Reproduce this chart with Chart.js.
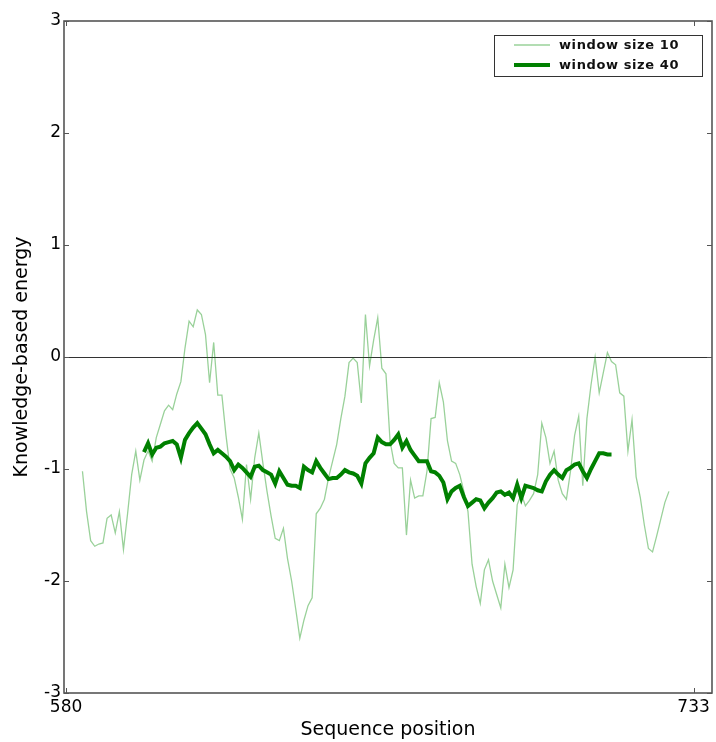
<!DOCTYPE html>
<html>
<head>
<meta charset="utf-8">
<script src="https://cdn.jsdelivr.net/npm/chart.js@4/dist/chart.umd.min.js"></script>
<style>
  html, body { margin: 0; padding: 0; background: #fff; }
  #wrap { width: 716px; height: 742px; }
</style>
</head>
<body>
<div id="wrap"><canvas id="myChart" width="716" height="742"></canvas></div>
<script>
// sequence positions where each smoothed series begins (one value per residue after that)
const start10 = 584;
const start40 = 599;

const label10 = 'window size 10';
const label40 = 'window size 40';

const xTicks = [580, 733];
const yTicks = [-3, -2, -1, 0, 1, 2, 3];

// window size 10 : positions 584..727
const energy10 = [
  -1.02, -1.38, -1.64, -1.69, -1.67, -1.66, -1.44, -1.41, -1.57, -1.38,
  -1.72, -1.40, -1.05, -0.84, -1.10, -0.92, -0.84, -0.93, -0.72, -0.60,
  -0.48, -0.43, -0.47, -0.33, -0.22, 0.08, 0.32, 0.27, 0.42, 0.38,
  0.20, -0.23, 0.13, -0.34, -0.34, -0.70, -1.00, -1.08, -1.25, -1.45,
  -0.96, -1.27, -0.90, -0.68, -0.95, -1.20, -1.42, -1.62, -1.64, -1.53,
  -1.80, -2.00, -2.25, -2.51, -2.35, -2.22, -2.15, -1.40, -1.35, -1.27,
  -1.08, -0.93, -0.78, -0.55, -0.35, -0.05, -0.01, -0.05, -0.41, 0.38,
  -0.08, 0.15, 0.35, -0.10, -0.15, -0.75, -0.95, -0.99, -0.99, -1.59,
  -1.10, -1.26, -1.24, -1.24, -1.02, -0.55, -0.54, -0.23, -0.40, -0.75,
  -0.93, -0.95, -1.05, -1.20, -1.38, -1.85, -2.05, -2.20, -1.90, -1.81,
  -2.00, -2.12, -2.24, -1.85, -2.06, -1.90, -1.32, -1.22, -1.33, -1.28,
  -1.22, -1.05, -0.59, -0.72, -0.95, -0.84, -1.10, -1.22, -1.27, -1.02,
  -0.70, -0.53, -1.15, -0.55, -0.25, 0.00, -0.32, -0.14, 0.04, -0.04,
  -0.07, -0.32, -0.35, -0.84, -0.56, -1.07, -1.25, -1.50, -1.71, -1.74,
  -1.60, -1.45, -1.30, -1.20
];

// window size 40 : positions 599..713
const energy40 = [
  -0.85, -0.77, -0.87, -0.81, -0.80, -0.77, -0.76, -0.75, -0.78, -0.90,
  -0.74, -0.68, -0.63, -0.59, -0.64, -0.69, -0.78, -0.86, -0.83, -0.86,
  -0.89, -0.93, -1.01, -0.96, -0.99, -1.03, -1.07, -0.98, -0.97, -1.01,
  -1.03, -1.05, -1.13, -1.02, -1.08, -1.14, -1.15, -1.15, -1.17, -0.98,
  -1.01, -1.03, -0.93, -0.99, -1.04, -1.09, -1.08, -1.08, -1.05, -1.01,
  -1.03, -1.04, -1.06, -1.13, -0.95, -0.90, -0.86, -0.72, -0.76, -0.78,
  -0.78, -0.74, -0.69, -0.81, -0.75, -0.83, -0.88, -0.93, -0.93, -0.93,
  -1.02, -1.03, -1.06, -1.12, -1.27, -1.20, -1.17, -1.15, -1.25, -1.33,
  -1.30, -1.27, -1.28, -1.35, -1.30, -1.26, -1.21, -1.20, -1.23, -1.21,
  -1.26, -1.14, -1.26, -1.15, -1.16, -1.17, -1.19, -1.20, -1.11, -1.05,
  -1.01, -1.05, -1.08, -1.01, -0.99, -0.96, -0.95, -1.02, -1.08, -1.00,
  -0.93, -0.86, -0.86, -0.87, -0.87
];

const pts10 = energy10.map((v, i) => ({ x: start10 + i, y: v }));
const pts40 = energy40.map((v, i) => ({ x: start40 + i, y: v }));

const FONT = "'DejaVu Sans', sans-serif";

// frame round the axes + inward tick marks, matplotlib style
const frame = {
  id: 'frame',
  afterDatasetsDraw: (chart) => {
    const ctx = chart.ctx;
    const a = chart.chartArea;
    const xs = chart.scales.x, ys = chart.scales.y;
    ctx.save();
    ctx.strokeStyle = '#555';
    ctx.lineWidth = 1.6;
    ctx.strokeRect(a.left, a.top, a.right - a.left, a.bottom - a.top);
    ctx.lineWidth = 1;
    ctx.beginPath();
    xTicks.forEach(t => {
      const px = Math.round(xs.getPixelForValue(t)) + 0.5;
      ctx.moveTo(px, a.bottom); ctx.lineTo(px, a.bottom - 5);
      ctx.moveTo(px, a.top); ctx.lineTo(px, a.top + 5);
    });
    yTicks.forEach(t => {
      const py = Math.round(ys.getPixelForValue(t)) + 0.5;
      ctx.moveTo(a.left, py); ctx.lineTo(a.left + 5, py);
      ctx.moveTo(a.right, py); ctx.lineTo(a.right - 5, py);
    });
    ctx.stroke();
    ctx.restore();
  }
};

// boxed legend in the upper right corner of the plot
const boxLegend = {
  id: 'boxLegend',
  afterDraw: (chart) => {
    const ctx = chart.ctx;
    const a = chart.chartArea;
    const w = 208, h = 41;
    const x0 = a.right - 10 - w, y0 = a.top + 14;
    ctx.save();
    ctx.fillStyle = '#fff';
    ctx.fillRect(x0, y0, w, h);
    ctx.strokeStyle = '#333';
    ctx.lineWidth = 1;
    ctx.strokeRect(x0 + 0.5, y0 + 0.5, w, h);
    ctx.font = 'bold 13px ' + FONT;
    ctx.textBaseline = 'middle';
    chart.data.datasets.forEach((ds, i) => {
      const cy = y0 + 10 + i * 20;
      ctx.strokeStyle = ds.borderColor;
      ctx.lineWidth = ds.borderWidth;
      ctx.beginPath();
      ctx.moveTo(x0 + 20, cy);
      ctx.lineTo(x0 + 56, cy);
      ctx.stroke();
      ctx.fillStyle = '#111';
      ctx.letterSpacing = '0.6px';
      ctx.fillText(ds.label, x0 + 65, cy + 1);
    });
    ctx.restore();
  }
};

const data = {
  datasets: [{
    label: label10,
    data: pts10,
    borderColor: 'rgba(0, 140, 0, 0.4)',
    borderWidth: 1.3,
    pointRadius: 0,
    tension: 0,
  }, {
    label: label40,
    data: pts40,
    borderColor: 'rgb(0, 128, 0)',
    borderWidth: 4,
    pointRadius: 0,
    tension: 0,
  }]
};

const config = {
  type: 'line',
  data: data,
  options: {
    responsive: false,
    animation: false,
    layout: { padding: { top: 21, right: 4, left: 0, bottom: 0 } },
    plugins: {
      legend: { display: false },
      tooltip: { enabled: false },
    },
    scales: {
      x: {
        type: 'linear',
        min: 579.5,
        max: 737.5,
        afterBuildTicks: (s) => { s.ticks = xTicks.map(v => ({ value: v })); },
        afterFit: (s) => { s.height = 49; },
        grid: { display: false, drawTicks: false },
        border: { display: false },
        ticks: {
          color: '#000',
          font: { family: FONT, size: 17 },
          padding: 4,
          maxRotation: 0,
          autoSkip: false,
        },
        title: {
          display: true,
          text: 'Sequence position',
          color: '#000',
          font: { family: FONT, size: 19 },
          padding: { top: 1, bottom: 1 },
        }
      },
      y: {
        min: -3,
        max: 3,
        afterBuildTicks: (s) => { s.ticks = yTicks.map(v => ({ value: v })); },
        afterFit: (s) => { s.width = 64; },
        grid: {
          drawTicks: false,
          color: (c) => (c.tick && c.tick.value === 0 ? '#333' : 'rgba(0,0,0,0)'),
          lineWidth: 1,
        },
        border: { display: false },
        ticks: {
          color: '#000',
          font: { family: FONT, size: 17 },
          padding: 3,
        },
        title: {
          display: true,
          text: 'Knowledge-based energy',
          color: '#000',
          font: { family: FONT, size: 19 },
          padding: { top: 11, bottom: 2 },
        }
      }
    }
  },
  plugins: [frame, boxLegend]
};

const myChart = new Chart(document.getElementById('myChart'), config);
</script>
</body>
</html>
